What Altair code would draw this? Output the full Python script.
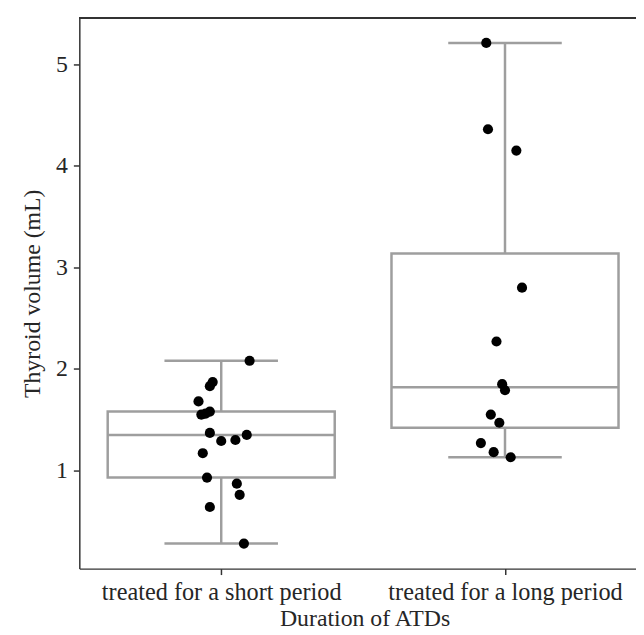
import altair as alt
import pandas as pd

categories = ["treated for a short period", "treated for a long period"]
short_values = [2.08, 1.87, 1.83, 1.68, 1.55, 1.58, 1.56, 1.37, 1.29, 1.30, 1.35,
                1.17, 0.93, 0.87, 0.76, 0.64, 0.28]
short_jitter = [0.10, -0.03, -0.04, -0.08, -0.07, -0.04, -0.055, -0.04, 0.0, 0.05, 0.09,
                -0.065, -0.05, 0.055, 0.065, -0.04, 0.08]
long_values = [5.21, 4.36, 4.15, 2.80, 2.27, 1.85, 1.79, 1.55, 1.47, 1.27, 1.18, 1.13]
long_jitter = [-0.066, -0.06, 0.04, 0.06, -0.03, -0.01, 0.0, -0.05, -0.02, -0.085, -0.04, 0.02]

rows = []
for pos, (vals, jit) in enumerate([(short_values, short_jitter), (long_values, long_jitter)]):
    for v, j in zip(vals, jit):
        rows.append({"pos": pos, "group": categories[pos], "value": v, "xj": pos + j})
df = pd.DataFrame(rows)

FONT = "Liberation Serif"
TXT = "#262626"
BOX = "#9e9e9e"
W, H = 562, 556

xs = alt.Scale(domain=[-0.5, -0.5 + W / 286.5], nice=False, zero=False)
ys = alt.Scale(domain=[0.0335, 5.4565], nice=False, zero=False)

x_axis = alt.Axis(
    values=[0, 1],
    labelExpr=f"datum.value == 0 ? '{categories[0]}' : '{categories[1]}'",
    grid=False, tickSize=6, labelPadding=6, titlePadding=3,
    labelFontSize=24.5, titleFontSize=24, labelFont=FONT, titleFont=FONT,
    labelColor=TXT, titleColor=TXT, domainColor="#333333", tickColor="#333333",
    domainWidth=1.5, tickWidth=1.5, titleFontWeight="normal", titleX=288,
    labelFlush=False, labelOverlap=False, labelLimit=0,
)
y_axis = alt.Axis(
    values=[1, 2, 3, 4, 5], grid=False, tickSize=6, labelPadding=6, titlePadding=11,
    labelFontSize=24, titleFontSize=24, labelFont=FONT, titleFont=FONT,
    labelColor=TXT, titleColor=TXT, domainColor="#333333", tickColor="#333333",
    domainWidth=1.5, tickWidth=1.5, titleFontWeight="normal", labelLimit=0,
)

def X(field):
    return alt.X(field, type="quantitative", scale=xs, axis=x_axis, title="Duration of ATDs")

def Y(field):
    return alt.Y(field, type="quantitative", scale=ys, axis=y_axis, title="Thyroid volume (mL)")

base = alt.Chart(df)

stats = (
    base.transform_joinaggregate(
        q1="q1(value)", q3="q3(value)", med="median(value)", groupby=["pos"]
    )
    .transform_calculate(
        lo="datum.q1 - 1.5 * (datum.q3 - datum.q1)",
        hi="datum.q3 + 1.5 * (datum.q3 - datum.q1)",
    )
    .transform_calculate(
        inl="(datum.value >= datum.lo && datum.value <= datum.hi) ? datum.value : null"
    )
    .transform_aggregate(
        q1="max(q1)", q3="max(q3)", med="max(med)", wlo="min(inl)", whi="max(inl)",
        groupby=["pos"],
    )
    .transform_calculate(
        bl="datum.pos - 0.4", br="datum.pos + 0.4",
        cl="datum.pos - 0.2", cr="datum.pos + 0.2",
    )
)

line = dict(color=BOX, strokeWidth=2.5)

box = stats.mark_rect(fillOpacity=0, stroke=BOX, strokeWidth=2.5).encode(
    x=X("bl"), x2="br", y=Y("q1"), y2="q3"
)
median = stats.mark_rule(**line).encode(x=X("bl"), x2="br", y=Y("med"))
whisk_hi = stats.mark_rule(**line).encode(x=X("pos"), y=Y("q3"), y2="whi")
whisk_lo = stats.mark_rule(**line).encode(x=X("pos"), y=Y("wlo"), y2="q1")
cap_hi = stats.mark_rule(**line).encode(x=X("cl"), x2="cr", y=Y("whi"))
cap_lo = stats.mark_rule(**line).encode(x=X("cl"), x2="cr", y=Y("wlo"))

points = base.mark_circle(size=105, color="black", opacity=1).encode(
    x=X("xj"), y=Y("value")
)

top_spine = base.mark_rule(color="#333333", strokeWidth=1.5).encode(
    x=alt.value(0), x2=alt.value(W), y=alt.value(0)
)

chart = (
    alt.layer(box, median, whisk_hi, whisk_lo, cap_hi, cap_lo, points, top_spine)
    .properties(
        width=W, height=H,
        autosize=alt.AutoSizeParams(type="none"),
        padding={"left": 72, "top": 7, "right": 0, "bottom": 62},
    )
    .configure_view(stroke=None)
)

chart.save("out.html", embed_options={"renderer": "svg", "actions": False})
